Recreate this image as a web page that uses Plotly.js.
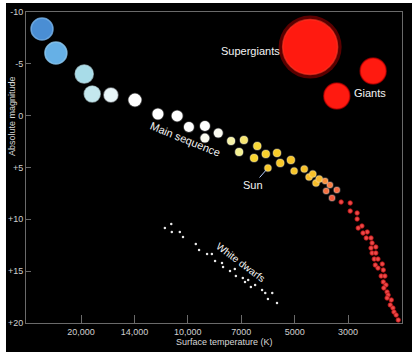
<!DOCTYPE html>
<html>
<head>
<meta charset="utf-8">
<script src="https://cdn.plot.ly/plotly-3.0.1.min.js"></script>
<style>html,body{margin:0;padding:0;background:#fff;}#chart{width:418px;height:358px;}</style>
</head>
<body>
<div id="chart"></div>
<script>
// x values are positions on the temperature scale (0 = 20,000 K tick, 1 = 14,000 K tick, ...)
const tempTickPos = [0, 1, 2, 3, 4, 5];
const tempTickLabels = ['20,000', '14,000', '10,000', '7000', '5000', '3000'];
const magTickVals = [-10, -5, 0, 5, 10, 15, 20];
const magTickLabels = ['-10', '-5', '0', '+5', '+10', '+15', '+20'];

// Main sequence (hot -> cool)
const msTemp = [-0.73, -0.47, 0.06, 0.21, 0.56, 1.01, 1.44, 1.80, 2.02, 2.32, 2.32, 2.57,
  2.81, 3.05, 2.96, 3.30, 3.24, 3.46, 3.67, 3.73, 3.93, 3.99, 4.18, 4.27, 4.34, 4.40, 4.46,
  4.57, 4.66, 4.59, 4.79, 4.70];
const msMag = [-8.36, -6.04, -4.02, -2.09, -1.99, -1.51, -0.16, 0.03, 1.10, 1.00, 2.16, 1.67,
  2.45, 2.35, 3.51, 2.93, 4.09, 3.70, 3.60, 4.57, 4.28, 5.34, 5.15, 5.92, 5.63, 6.50, 6.11,
  6.30, 6.69, 7.27, 7.17, 7.94];

// Red dwarfs (lower end of the main sequence)
const rdTemp = [4.87, 5.04, 5.04, 5.17, 5.17, 5.26, 5.19, 5.36, 5.28, 5.34, 5.43, 5.45, 5.43,
  5.52, 5.45, 5.52, 5.49, 5.56, 5.51, 5.64, 5.56, 5.66, 5.62, 5.69, 5.66, 5.71, 5.67, 5.73,
  5.75, 5.73, 5.81, 5.79, 5.84, 5.86, 5.90, 5.94];
const rdMag = [8.33, 8.42, 9.20, 9.39, 9.97, 10.64, 10.84, 11.22, 11.32, 11.80, 11.80, 12.28,
  12.77, 12.67, 13.25, 13.25, 13.83, 13.83, 14.41, 14.31, 14.70, 14.89, 15.47, 15.47, 16.04,
  16.33, 16.62, 17.01, 17.30, 17.59, 17.78, 18.26, 18.55, 18.94, 19.23, 19.71];

// Sun
const sunTemp = [3.50];
const sunMag = [5.05];

// White dwarfs
const wdTemp = [1.57, 1.69, 1.70, 1.85, 1.91, 2.15, 2.21, 2.36, 2.45, 2.51, 2.64, 2.66, 2.79,
  2.88, 2.90, 3.03, 3.07, 3.13, 3.18, 3.26, 3.39, 3.45, 3.50, 3.58, 3.67];
const wdMag = [10.84, 10.45, 11.22, 11.22, 11.70, 12.38, 12.96, 13.35, 13.35, 14.02, 14.21,
  14.60, 14.98, 14.79, 15.47, 15.66, 16.04, 15.85, 16.53, 16.33, 16.82, 17.11, 17.69, 17.11, 18.07];

// Giants and supergiants
const sgTemp = [4.29];
const sgMag = [-6.62];
const giTemp = [5.47, 4.79];
const giMag = [-4.31, -1.90];

// ---- styles ----
const msSize = [22, 22, 18, 16, 14, 13, 11, 11, 10, 10, 9, 9, 8, 8, 8, 8, 8, 8, 8, 8, 8, 7,
  7, 7, 7, 7, 7, 6, 6, 6, 6, 6];
const msColor = ['#4a8ed4', '#66b0e6', '#a8dce8', '#c4e8ee', '#e8f6f8', '#ffffff', '#ffffff',
  '#ffffff', '#ffffff', '#ffffff', '#fcfcf0', '#fafaf0', '#f6f2a8', '#f6e470', '#f4f090',
  '#f8d838', '#f8d430', '#f8d02c', '#f8cc28', '#f8c828', '#f6c428', '#f6c428', '#f6c028',
  '#f8bc28', '#f8c028', '#f6bc28', '#f6b830', '#f8903c', '#f87c40', '#f47040', '#f46a40',
  '#ee5a3c'];
const msLine = ['rgba(120,180,235,0.8)', 'rgba(140,200,240,0.8)', 'rgba(190,230,240,0.7)',
  'rgba(200,235,240,0.6)', 'rgba(230,240,245,0.5)'];
for (let i = msLine.length; i < msSize.length; i++) msLine.push('rgba(255,255,255,0.25)');

const traces = [
  { x: sgTemp, y: sgMag, mode: 'markers', hoverinfo: 'skip',
    marker: { size: 63, opacity: 1, color: 'rgba(120,0,0,0.75)', line: { width: 0 } } },
  { x: sgTemp, y: sgMag, mode: 'markers', hoverinfo: 'skip',
    marker: { size: 55, opacity: 1, color: '#ff1a10', line: { width: 1.5, color: 'rgba(255,60,40,0.6)' } } },
  { x: giTemp, y: giMag, mode: 'markers', hoverinfo: 'skip',
    marker: { size: 26, opacity: 1, color: '#ff1a10', line: { width: 1.5, color: 'rgba(200,0,0,0.6)' } } },
  { x: msTemp, y: msMag, mode: 'markers', hoverinfo: 'skip',
    marker: { size: msSize, opacity: 1, color: msColor, line: { width: 1.5, color: msLine } } },
  { x: rdTemp, y: rdMag, mode: 'markers', hoverinfo: 'skip',
    marker: { size: 4.5, opacity: 1, color: '#ee4848', line: { width: 1, color: 'rgba(180,20,20,0.8)' } } },
  { x: sunTemp, y: sunMag, mode: 'markers', hoverinfo: 'skip',
    marker: { size: 7, opacity: 1, color: '#f8c828', line: { width: 1.5, color: 'rgba(255,255,255,0.25)' } } },
  { x: wdTemp, y: wdMag, mode: 'markers', hoverinfo: 'skip',
    marker: { size: 2.5, opacity: 1, color: '#e8e8e8', line: { width: 0 } } }
];

const lbl = { family: 'Liberation Sans, Arial, sans-serif', color: '#f4f4f4', size: 11 };
const ctr = { xanchor: 'center', yanchor: 'middle', showarrow: false, xref: 'paper', yref: 'paper' };

const layout = {
  width: 418, height: 358,
  margin: { l: 26, r: 16, t: 12, b: 35 },
  paper_bgcolor: '#ffffff',
  plot_bgcolor: '#000000',
  showlegend: false,
  font: { family: 'Liberation Sans, Arial, sans-serif', color: '#cfcfcf', size: 9 },
  xaxis: {
    range: [-1.03, 6.01], tickmode: 'array', tickvals: tempTickPos, ticktext: tempTickLabels,
    showgrid: false, zeroline: false, showline: true, linecolor: '#6a6a6a', linewidth: 1,
    mirror: true, ticks: 'inside', ticklen: 8, tickcolor: '#6a6a6a',
    tickfont: { size: 9, color: '#d0d0d0' }
  },
  yaxis: {
    range: [20, -10], tickmode: 'array', tickvals: magTickVals, ticktext: magTickLabels,
    showgrid: false, zeroline: false, showline: true, linecolor: '#6a6a6a', linewidth: 1,
    mirror: true, ticks: 'inside', ticklen: 5, tickcolor: '#6a6a6a',
    tickfont: { size: 9, color: '#d0d0d0' }
  },
  shapes: [
    { type: 'rect', xref: 'paper', yref: 'paper', x0: -0.0532, x1: 1.0266, y0: -0.0932, y1: 1.029,
      fillcolor: '#000000', line: { width: 0 }, layer: 'below' }
  ],
  annotations: [
    Object.assign({}, ctr, { x: -0.037, y: 0.666, text: 'Absolute magnitude', textangle: -90,
      font: { size: 9, color: '#d8d8d8', family: lbl.family } }),
    Object.assign({}, ctr, { x: 0.527, y: -0.061, text: 'Surface temperature (K)',
      font: { size: 9, color: '#d8d8d8', family: lbl.family } }),
    Object.assign({}, ctr, { x: 0.596, y: 0.875, text: 'Supergiants', font: lbl }),
    Object.assign({}, ctr, { x: 0.915, y: 0.740, text: 'Giants', font: lbl }),
    Object.assign({}, ctr, { x: 0.423, y: 0.592, text: 'Main sequence', textangle: 22, font: lbl }),
    Object.assign({}, ctr, { x: 0.572, y: 0.196, text: 'White dwarfs', textangle: 37,
      font: { size: 10, color: '#f4f4f4', family: lbl.family } }),
    { x: sunTemp[0], y: sunMag[0], text: 'Sun', showarrow: true, ax: -15, ay: 17,
      arrowhead: 0, arrowwidth: 1, arrowcolor: '#b8d0ff', standoff: 3, font: lbl }
  ]
};

Plotly.newPlot('chart', traces, layout, { displayModeBar: false, staticPlot: true });
</script>
</body>
</html>
